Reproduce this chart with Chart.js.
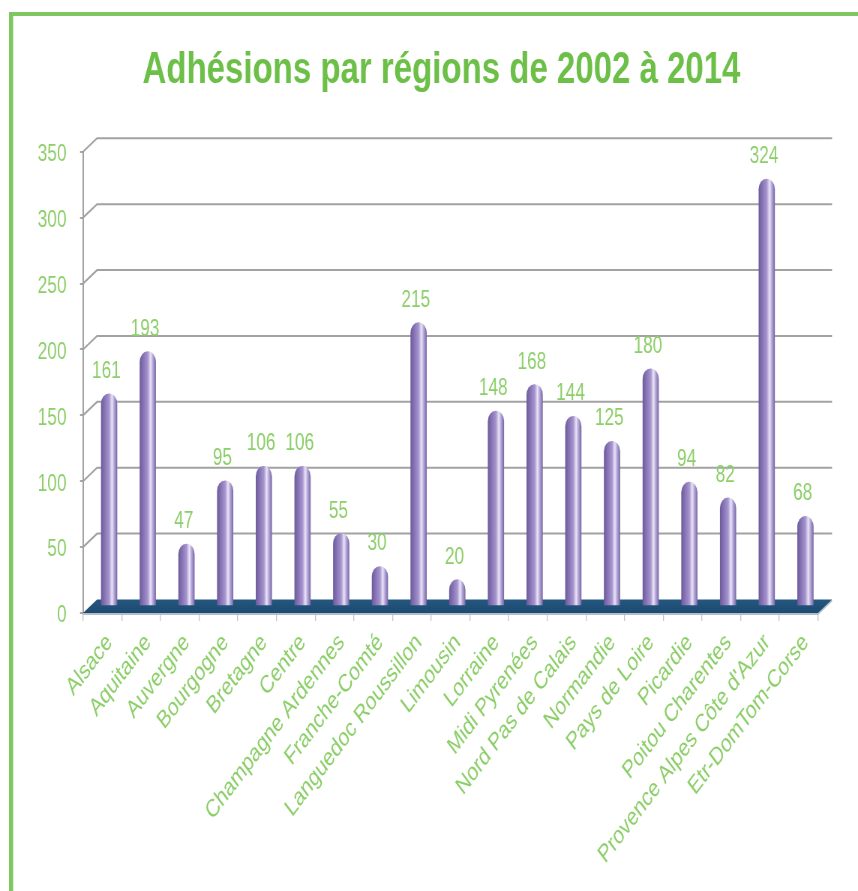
<!DOCTYPE html>
<html>
<head>
<meta charset="utf-8">
<script src="https://cdn.jsdelivr.net/npm/chart.js@4/dist/chart.umd.min.js"></script>
<style>
  html, body { margin: 0; padding: 0; background: #ffffff; overflow: hidden; }
  #wrap { width: 1144px; height: 891px; transform: scaleX(0.75); transform-origin: 0 0; }
  canvas { display: block; }
</style>
</head>
<body>
<div id="wrap"><canvas id="c" width="1144" height="891"></canvas></div>
<script>
// ---- data ----
const titleText = "Adhésions par régions de 2002 à 2014";
const regions = [
  "Alsace", "Aquitaine", "Auvergne", "Bourgogne", "Bretagne", "Centre",
  "Champagne Ardennes", "Franche-Comté", "Languedoc Roussillon", "Limousin",
  "Lorraine", "Midi Pyrenées", "Nord Pas de Calais", "Normandie",
  "Pays de Loire", "Picardie", "Poitou Charentes",
  "Provence Alpes Côte d'Azur", "Etr-DomTom-Corse"
];
const adhesions = [161, 193, 47, 95, 106, 106, 55, 30, 215, 20, 148, 168, 144, 125, 180, 94, 82, 324, 68];
const yTicks = [0, 50, 100, 150, 200, 250, 300, 350];

// ---- style ----
const GREEN_TITLE = '#6cbf47';
const GREEN_TEXT = '#8ccf69';
const FRAME = '#7fc760';
const GRID = '#a2a2a2';
const DX = 18.7, DY = 13.5;   // back wall depth
const BX = 9, BY = -7;        // bars at mid depth
const BAR_W = 21;

const deco = {
  id: 'deco',
  afterLayout(chart) {
    // let the y tick labels extend into the left padding without clipping
    chart.scales.y.left = 20;
  },
  beforeDraw(chart) {
    const ctx = chart.ctx;
    ctx.save();
    ctx.fillStyle = '#ffffff';
    ctx.fillRect(0, 0, chart.width, chart.height);
    ctx.fillStyle = FRAME;
    ctx.fillRect(12, 12, 5.5, chart.height);
    ctx.fillRect(12, 12, chart.width, 4);
    ctx.restore();
  },
  beforeDatasetsDraw(chart) {
    const ctx = chart.ctx, a = chart.chartArea, y = chart.scales.y;
    ctx.save();
    ctx.strokeStyle = GRID;
    ctx.lineWidth = 2;
    y.ticks.forEach(t => {
      if (t.value === 0) return;
      const py = y.getPixelForValue(t.value);
      ctx.beginPath();
      ctx.moveTo(a.left, py);
      ctx.lineTo(a.left + DX, py - DY);
      ctx.lineTo(a.right + DX, py - DY);
      ctx.stroke();
    });
    const b = y.getPixelForValue(0);
    ctx.fillStyle = '#b4bcc4';
    ctx.beginPath();
    ctx.moveTo(a.left, b);
    ctx.lineTo(a.right, b);
    ctx.lineTo(a.right + DX, b - DY);
    ctx.lineTo(a.right + DX, b - DY + 2);
    ctx.lineTo(a.right, b + 2);
    ctx.lineTo(a.left, b + 2);
    ctx.closePath();
    ctx.fill();
    const fg = ctx.createLinearGradient(0, b - DY, 0, b);
    fg.addColorStop(0, '#24577f');
    fg.addColorStop(1, '#1c4a72');
    ctx.fillStyle = fg;
    ctx.beginPath();
    ctx.moveTo(a.left, b);
    ctx.lineTo(a.right, b);
    ctx.lineTo(a.right + DX, b - DY);
    ctx.lineTo(a.left + DX, b - DY);
    ctx.closePath();
    ctx.fill();
    ctx.restore();
    ctx.save();
    ctx.translate(BX, BY);
  },
  afterDatasetsDraw(chart) {
    const ctx = chart.ctx;
    ctx.restore();
    const meta = chart.getDatasetMeta(0);
    ctx.save();
    ctx.fillStyle = GREEN_TEXT;
    ctx.font = '23px "Liberation Sans", Arial, sans-serif';
    ctx.textAlign = 'center';
    ctx.textBaseline = 'alphabetic';
    meta.data.forEach((el, i) => {
      ctx.fillText(String(adhesions[i]), el.x + 5.3, el.y - 23);
    });
    ctx.restore();
  }
};

new Chart(document.getElementById('c'), {
  type: 'bar',
  data: {
    labels: regions,
    datasets: [{
      data: adhesions,
      barThickness: BAR_W,
      borderRadius: { topLeft: BAR_W / 2, topRight: BAR_W / 2, bottomLeft: 0, bottomRight: 0 },
      borderSkipped: 'start',
      backgroundColor(c) {
        const ch = c.chart, xs = ch.scales && ch.scales.x;
        if (!ch.chartArea || !xs) return '#9080c0';
        const cx = xs.getPixelForValue(c.dataIndex);
        const g = ch.ctx.createLinearGradient(cx - BAR_W / 2, 0, cx + BAR_W / 2, 0);
        g.addColorStop(0, '#6d5b9b');
        g.addColorStop(0.25, '#8a77b8');
        g.addColorStop(0.5, '#a795cf');
        g.addColorStop(0.68, '#ebe5f7');
        g.addColorStop(0.82, '#b5a7d8');
        g.addColorStop(1, '#7a68a8');
        return g;
      }
    }]
  },
  options: {
    responsive: false,
    animation: false,
    layout: { padding: { left: 86.6, right: 53.3, top: 0, bottom: 0 } },
    plugins: {
      legend: { display: false },
      tooltip: { enabled: false },
      title: {
        display: true,
        text: titleText,
        color: GREEN_TITLE,
        font: { family: '"Liberation Sans", Arial, sans-serif', size: 44, weight: 'bold', lineHeight: 1.2 },
        padding: { top: 44, bottom: 55 }
      }
    },
    scales: {
      x: {
        grid: { display: true, drawOnChartArea: false, drawTicks: true, tickLength: 8, color: '#c4c4c4', lineWidth: 1.3, offset: true },
        border: { display: false },
        ticks: {
          autoSkip: false, minRotation: 45, maxRotation: 45,
          color: GREEN_TEXT, padding: 7, labelOffset: 9.4,
          font: { family: '"Liberation Sans", Arial, sans-serif', size: 25 }
        },
        afterFit(s) { s.height = 278; }
      },
      y: {
        min: 0, max: 350,
        afterBuildTicks(s) { s.ticks = yTicks.map(v => ({ value: v })); },
        grid: { display: true, drawOnChartArea: false, drawTicks: true, tickLength: 4, color: GRID, lineWidth: 2 },
        border: { display: true, color: GRID, width: 2 },
        ticks: {
          color: GREEN_TEXT, padding: 18, labelOffset: 3,
          font: { family: '"Liberation Sans", Arial, sans-serif', size: 23 }
        },
        afterFit(s) { s.width = 24.1; }
      }
    }
  },
  plugins: [deco]
});
</script>
</body>
</html>
